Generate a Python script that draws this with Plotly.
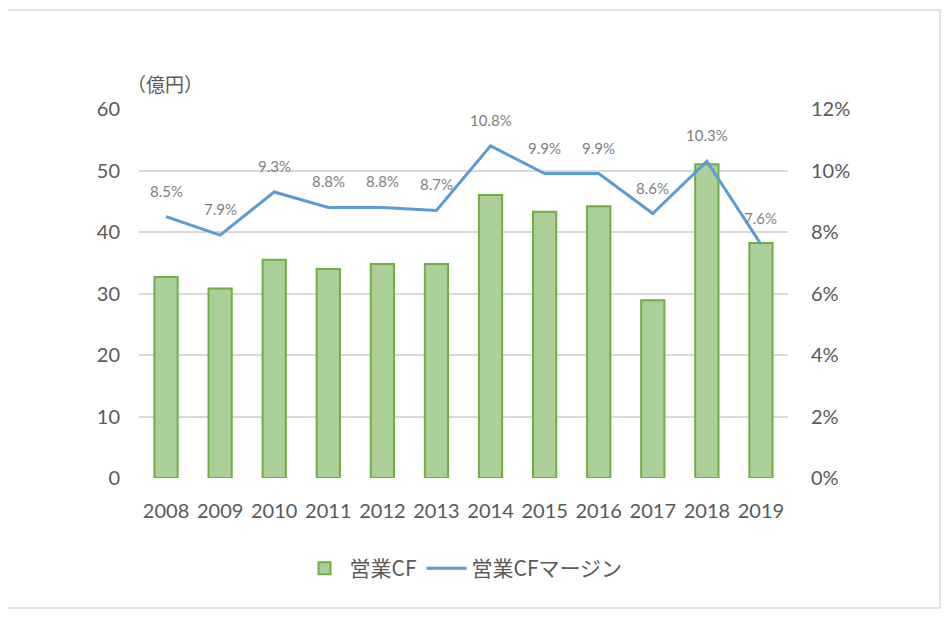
import plotly.graph_objects as go

years = ["2008", "2009", "2010", "2011", "2012", "2013", "2014", "2015", "2016", "2017", "2018", "2019"]
cf_values = [32.7, 30.8, 35.5, 34.0, 34.8, 34.8, 46.0, 43.3, 44.2, 28.9, 51.0, 38.2]
margin_pct = [8.5, 7.9, 9.3, 8.8, 8.8, 8.7, 10.8, 9.9, 9.9, 8.6, 10.3, 7.6]
margin_labels = ["8.5%", "7.9%", "9.3%", "8.8%", "8.8%", "8.7%", "10.8%", "9.9%", "9.9%", "8.6%", "10.3%", "7.6%"]
left_ticks = [0, 10, 20, 30, 40, 50, 60]
right_ticks = [0, 2, 4, 6, 8, 10, 12]
right_tick_labels = ["0%", "2%", "4%", "6%", "8%", "10%", "12%"]

FONT = "Lato, 'Noto Sans CJK JP', sans-serif"
JFONT = "'Noto Sans CJK JP', Lato, sans-serif"
GRAY = "#595959"

fig = go.Figure()
fig.add_trace(go.Bar(
    x=years, y=cf_values, name="営業CF",
    marker=dict(color="#abd097", line=dict(color="#70ad47", width=2)),
    width=0.43, yaxis="y",
))
fig.add_trace(go.Scatter(
    x=years, y=margin_pct, name="営業CFマージン", mode="lines",
    line=dict(color="#5b9bd5", width=3),
    yaxis="y2", cliponaxis=False,
))

annotations = [
    dict(text="（億円）", xref="paper", yref="paper", x=0.04, y=1.07,
         xanchor="center", yanchor="middle", showarrow=False,
         font=dict(size=19, color=GRAY, family=JFONT))
]
for i, (v, lab) in enumerate(zip(margin_pct, margin_labels)):
    annotations.append(dict(text=lab, x=i, y=v, xref="x", yref="y2", yshift=26,
                            showarrow=False, xanchor="center", yanchor="middle",
                            font=dict(size=15, color="#7f7f7f", family=FONT)))

fig.update_layout(
    width=941, height=610,
    margin=dict(l=131, r=161, t=101, b=140),
    paper_bgcolor="white", plot_bgcolor="white",
    font=dict(family=FONT, color=GRAY, size=20),
    showlegend=True,
    legend=dict(orientation="h", x=0.5, xanchor="center", y=-0.19, yanchor="top",
                font=dict(size=21, color=GRAY, family=JFONT), traceorder="normal",
                itemwidth=40),
    xaxis=dict(type="category", categoryarray=years, showgrid=False, showline=False, ticks="",
               tickfont=dict(size=20, color=GRAY), ticklabelstandoff=19),
    yaxis=dict(range=[0, 60], tickvals=left_ticks, showgrid=True, gridcolor="#d9d9d9",
               gridwidth=1.5, zeroline=False, showline=False, ticks="",
               tickfont=dict(size=20, color=GRAY), ticklabelstandoff=18),
    yaxis2=dict(range=[0, 12], tickvals=right_ticks, ticktext=right_tick_labels,
                overlaying="y", side="right", showgrid=False, zeroline=False,
                showline=False, ticks="", tickfont=dict(size=20, color=GRAY),
                ticklabelstandoff=22),
    bargap=0.57,
    annotations=annotations,
    shapes=[dict(type="rect", xref="paper", yref="paper", x0=-0.2034, x1=1.2342,
                 y0=-0.352, y1=1.268, line=dict(color="#d9d9d9", width=1.5),
                 fillcolor="rgba(0,0,0,0)", layer="below")],
)

fig.write_html("out.html")
